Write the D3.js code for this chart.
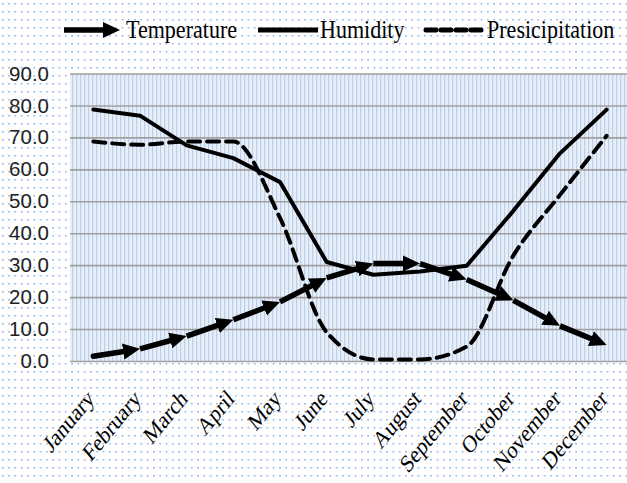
<!DOCTYPE html>
<html><head><meta charset="utf-8">
<script src="https://cdn.jsdelivr.net/npm/d3@7"></script>
<style>html,body{margin:0;padding:0;background:#fff;overflow:hidden}</style>
</head><body>
<svg id="chart" width="627" height="483"></svg>
<script>
const months = ["January","February","March","April","May","June","July","August","September","October","November","December"];
const temperature = [1.5,3.8,7.8,12.9,18.5,26,30.5,30.5,25.5,19,11,5];
const humidity = [78.7,76.8,67.5,63.5,56,31,27,28,29.8,47,65,78.7];
const precipitation = [68.7,67.7,68.7,68.7,44.8,9,0.5,0.5,4.5,33,52,70.5];
const yTicks = [0,10,20,30,40,50,60,70,80,90];
const seriesNames = ["Temperature","Humidity","Presicipitation"];

const W = 627, H = 483;
const svg = d3.select("#chart");
const defs = svg.append("defs");

// outer dotted pattern
const dots = defs.append("pattern").attr("id","dots").attr("patternUnits","userSpaceOnUse")
  .attr("width",6.3).attr("height",8);
dots.append("rect").attr("width",6.3).attr("height",8).attr("fill","#fff");
dots.append("rect").attr("x",2).attr("y",3).attr("width",1.5).attr("height",1.5).attr("fill","#86abe0");

// plot stripes pattern
const stripes = defs.append("pattern").attr("id","stripes").attr("patternUnits","userSpaceOnUse")
  .attr("width",4).attr("height",10);
stripes.append("rect").attr("width",4).attr("height",10).attr("fill","#e8eef7");
stripes.append("rect").attr("x",0).attr("width",1.2).attr("height",10).attr("fill","#bccfeb");

// arrow marker
defs.append("marker").attr("id","arrow").attr("markerUnits","userSpaceOnUse")
  .attr("markerWidth",20).attr("markerHeight",18).attr("refX",17).attr("refY",9)
  .attr("orient","auto")
  .append("path").attr("d","M0,1 L17,9 L0,17 Z").attr("fill","#000");

svg.append("rect").attr("width",W).attr("height",H).attr("fill","url(#dots)");

const x = d3.scaleBand().domain(months).range([70, 630]);
const cx = m => x(m) + x.bandwidth()/2;
const y = d3.scaleLinear().domain([0,90]).range([361, 73.5]);

svg.append("rect").attr("x",70).attr("y",y(90)).attr("width",630-70).attr("height",y(0)-y(90))
  .attr("fill","url(#stripes)");

// y axis with gridlines
const yAxis = d3.axisLeft(y).tickValues(yTicks).tickFormat(d3.format(".1f"))
  .tickSizeInner(-(630-70)).tickSizeOuter(0).tickPadding(21);
const gy = svg.append("g").attr("transform","translate(70,0)").call(yAxis);
gy.select(".domain").remove();
gy.selectAll(".tick line").attr("stroke","#a0a0a0").attr("stroke-width",1.6);
gy.selectAll(".tick text").attr("font-family","'Liberation Sans', Arial, sans-serif")
  .attr("font-size",20.5).attr("fill","#222");

// x labels
const gx = svg.append("g");
months.forEach(m => {
  gx.append("text")
    .attr("transform",`translate(${cx(m)+2},${400}) scale(0.82,1) rotate(-45)`)
    .attr("text-anchor","end")
    .attr("font-family","'Liberation Serif','Times New Roman',serif")
    .attr("font-size",24.5).attr("fill","#000").text(m);
});

// humidity
const lineLin = d3.line().x((d,i)=>cx(months[i])).y(d=>y(d));
svg.append("path").datum(humidity).attr("d",lineLin).attr("fill","none")
  .attr("stroke","#000").attr("stroke-width",4).attr("stroke-linejoin","round").attr("stroke-linecap","round");

// precipitation
const lineSmooth = d3.line().x((d,i)=>cx(months[i])).y(d=>y(d)).curve(d3.curveMonotoneX);
svg.append("path").datum(precipitation).attr("d",lineSmooth).attr("fill","none")
  .attr("stroke","#000").attr("stroke-width",4).attr("stroke-dasharray","12,7").attr("stroke-linecap","round");

// temperature with arrowheads
const tg = svg.append("g");
for (let i = 0; i < temperature.length-1; i++) {
  const x1 = cx(months[i]), y1 = y(temperature[i]);
  const x2 = cx(months[i+1]), y2 = y(temperature[i+1]);
  const len = Math.hypot(x2-x1, y2-y1);
  const ux = (x2-x1)/len, uy = (y2-y1)/len;
  const sh = 10;
  tg.append("line").attr("x1",x1).attr("y1",y1).attr("x2",x2-ux*sh).attr("y2",y2-uy*sh)
    .attr("stroke","#000").attr("stroke-width",5.5).attr("stroke-linecap", i===0 ? "round" : "butt");
  tg.append("line").attr("x1",x2-ux*sh-0.1*ux).attr("y1",y2-uy*sh-0.1*uy).attr("x2",x2).attr("y2",y2)
    .attr("stroke","none").attr("marker-end","url(#arrow)");
}

// legend
const lg = svg.append("g");
const ly = 30;
lg.append("line").attr("x1",64).attr("y1",ly).attr("x2",108).attr("y2",ly)
  .attr("stroke","#000").attr("stroke-width",5.5);
lg.append("line").attr("x1",108).attr("y1",ly).attr("x2",120).attr("y2",ly)
  .attr("stroke","none").attr("marker-end","url(#arrow)");
lg.append("line").attr("x1",258).attr("y1",ly).attr("x2",318).attr("y2",ly)
  .attr("stroke","#000").attr("stroke-width",5);
lg.append("line").attr("x1",426).attr("y1",ly).attr("x2",483).attr("y2",ly)
  .attr("stroke","#000").attr("stroke-width",5).attr("stroke-dasharray","10,5").attr("stroke-linecap","round");
const legX = [126, 320, 487];
seriesNames.forEach((n,i) => {
  lg.append("text").attr("transform",`translate(${legX[i]},38) scale(0.9,1)`)
    .attr("font-family","'Liberation Serif','Times New Roman',serif")
    .attr("font-size",24.5).attr("fill","#000").text(n);
});
</script>
</body></html>
